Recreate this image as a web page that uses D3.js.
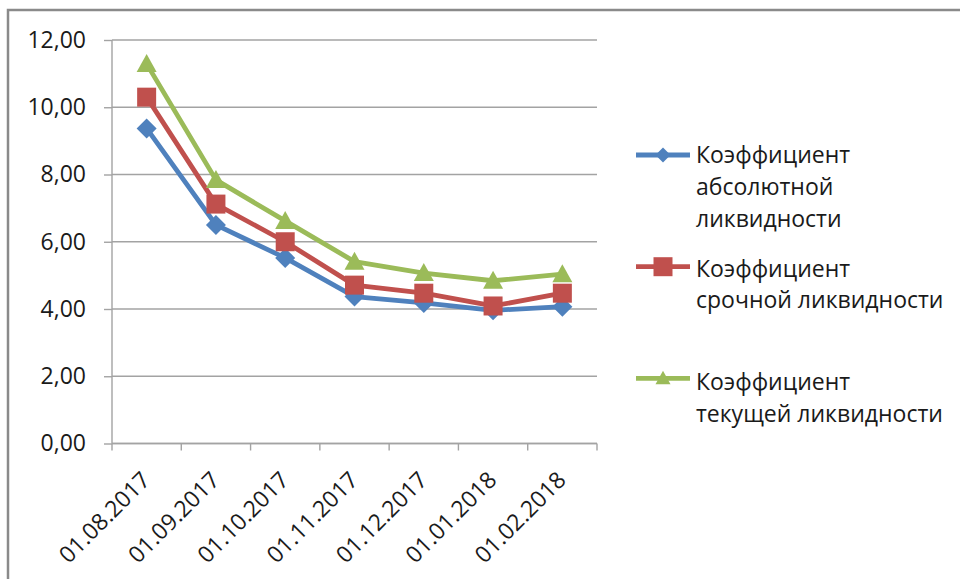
<!DOCTYPE html>
<html>
<head>
<meta charset="utf-8">
<script src="https://cdn.jsdelivr.net/npm/d3@7"></script>
<style>
  html, body { margin: 0; padding: 0; background: #fff; }
  svg { display: block; }
  text { font-family: "Open Sans", "DejaVu Sans", sans-serif; fill: #1a1a1a; }
</style>
</head>
<body>
<svg id="chart" width="960" height="579"></svg>
<script>
// Dates of the reporting periods
const categories = ["01.08.2017", "01.09.2017", "01.10.2017", "01.11.2017", "01.12.2017", "01.01.2018", "01.02.2018"];

// Liquidity ratios per date
const absoluteRatio = [9.37, 6.50, 5.52, 4.37, 4.18, 3.96, 4.07];
const quickRatio    = [10.30, 7.12, 6.00, 4.71, 4.47, 4.09, 4.47];
const currentRatio  = [11.29, 7.84, 6.62, 5.41, 5.07, 4.84, 5.04];

// Y axis ticks
const yTicks = [0, 2, 4, 6, 8, 10, 12];

// Legend wording (each entry wraps onto several lines)
const seriesNames = [
  ["Коэффициент", "абсолютной", "ликвидности"],
  ["Коэффициент", "срочной ликвидности"],
  ["Коэффициент", "текущей ликвидности"]
];

const series = [
  { values: absoluteRatio, color: "#4F81BD", marker: "diamond", name: seriesNames[0] },
  { values: quickRatio,    color: "#C0504D", marker: "square",  name: seriesNames[1] },
  { values: currentRatio,  color: "#9BBB59", marker: "triangle", name: seriesNames[2] }
];

const FONT = 23;
const svg = d3.select("#chart");

const plot = { left: 112, right: 597, top: 40, bottom: 443.5 };

const x = d3.scaleBand().domain(categories).range([plot.left, plot.right]).padding(0);
const y = d3.scaleLinear().domain([0, 12]).range([plot.bottom, plot.top]);
const cx = d => x(d) + x.bandwidth() / 2;

// Outer frame (top and left edges)
svg.append("path")
  .attr("d", `M8,579 V10 H960`)
  .attr("fill", "none")
  .attr("stroke", "#8a8a8a")
  .attr("stroke-width", 2.5);

// Horizontal gridlines
svg.append("g")
  .selectAll("line")
  .data(yTicks)
  .join("line")
  .attr("x1", plot.left)
  .attr("x2", plot.right)
  .attr("y1", d => y(d))
  .attr("y2", d => y(d))
  .attr("stroke", "#a3a3a3")
  .attr("stroke-width", 1.4);

// Y axis
const yAxis = d3.axisLeft(y)
  .tickValues(yTicks)
  .tickSize(8)
  .tickPadding(18)
  .tickFormat(d => d3.format(".2f")(d).replace(".", ","));

const gy = svg.append("g")
  .attr("transform", `translate(${plot.left},0)`)
  .call(yAxis);
gy.select(".domain").attr("stroke", "#a3a3a3").attr("stroke-width", 1.4)
  .attr("d", `M0,${plot.top}V${plot.bottom}`);
gy.selectAll(".tick line").attr("stroke", "#a3a3a3").attr("stroke-width", 1.4);
gy.selectAll(".tick text")
  .attr("font-size", FONT)
  .attr("fill", "#1a1a1a")
  .attr("font-family", "'Open Sans', sans-serif");

// X axis: boundaries between categories carry the ticks
const bounds = categories.map(c => x(c)).concat([plot.right]);
const gx = svg.append("g");
gx.append("line")
  .attr("x1", plot.left).attr("x2", plot.right)
  .attr("y1", plot.bottom).attr("y2", plot.bottom)
  .attr("stroke", "#a3a3a3").attr("stroke-width", 1.4);
gx.selectAll("line.tick")
  .data(bounds)
  .join("line")
  .attr("class", "tick")
  .attr("x1", d => d).attr("x2", d => d)
  .attr("y1", plot.bottom).attr("y2", plot.bottom + 7)
  .attr("stroke", "#a3a3a3").attr("stroke-width", 1.4);

gx.selectAll("text")
  .data(categories)
  .join("text")
  .attr("transform", d => `translate(${cx(d) + 5},${plot.bottom + 38}) rotate(-45)`)
  .attr("text-anchor", "end")
  .attr("font-size", FONT)
  .text(d => d);

// Marker shapes
function markerPath(type, s) {
  const h = s / 2;
  if (type === "diamond") return `M0,${-h}L${h},0L0,${h}L${-h},0Z`;
  if (type === "square") return `M${-h},${-h}H${h}V${h}H${-h}Z`;
  const th = s * 0.9;
  return `M0,${-th * 0.55}L${h},${th * 0.45}L${-h},${th * 0.45}Z`;
}

const line = d3.line()
  .x((v, i) => cx(categories[i]))
  .y(v => y(v));

// Series lines and markers
series.forEach(s => {
  const g = svg.append("g");
  g.append("path")
    .attr("d", line(s.values))
    .attr("fill", "none")
    .attr("stroke", s.color)
    .attr("stroke-width", 4.8)
    .attr("stroke-linejoin", "round");
  g.selectAll("path.mk")
    .data(s.values)
    .join("path")
    .attr("class", "mk")
    .attr("transform", (v, i) => `translate(${cx(categories[i])},${y(v)})`)
    .attr("d", markerPath(s.marker, s.marker === "square" ? 19 : 20))
    .attr("fill", s.color);
});

// Legend
const legendRows = [
  { markerY: 155, baselines: [163, 195, 226.7] },
  { markerY: 266.7, baselines: [276.7, 308] },
  { markerY: 378.3, baselines: [390, 421.7] }
];

series.forEach((s, k) => {
  const r = legendRows[k];
  const g = svg.append("g");
  g.append("line")
    .attr("x1", 636).attr("x2", 690)
    .attr("y1", r.markerY).attr("y2", r.markerY)
    .attr("stroke", s.color).attr("stroke-width", 4.8);
  g.append("path")
    .attr("transform", `translate(663,${r.markerY})`)
    .attr("d", markerPath(s.marker, s.marker === "square" ? 19 : 15))
    .attr("fill", s.color);
  s.name.forEach((t, j) => {
    g.append("text")
      .attr("x", 696)
      .attr("y", r.baselines[j])
      .attr("font-size", FONT)
      .text(t);
  });
});
</script>
</body>
</html>
